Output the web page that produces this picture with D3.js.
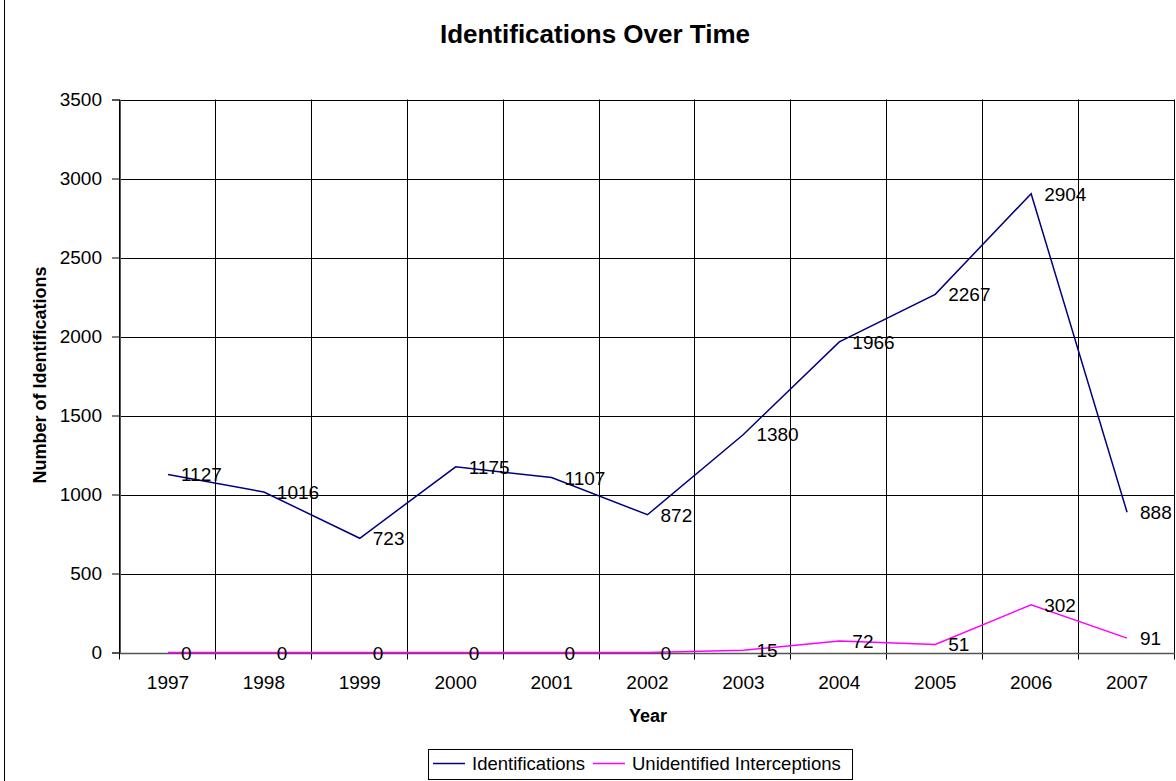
<!DOCTYPE html>
<html lang="en">
<head>
<meta charset="utf-8">
<title>Identifications Over Time</title>
<script src="https://d3js.org/d3.v7.min.js"></script>
<style>
  body { margin: 0; background: #fff; }
  svg { display: block; font-family: "Liberation Sans", Arial, sans-serif; }
</style>
</head>
<body>
<script>
// chart data
const years = ["1997", "1998", "1999", "2000", "2001", "2002", "2003", "2004", "2005", "2006", "2007"];
const identifications = [1127, 1016, 723, 1175, 1107, 872, 1380, 1966, 2267, 2904, 888];
const unidentified = [0, 0, 0, 0, 0, 0, 15, 72, 51, 302, 91];
const yTicks = [0, 500, 1000, 1500, 2000, 2500, 3000, 3500];

const width = 1176, height = 781;
const marginLeft = 120, marginRight = 1, marginTop = 99.5, marginBottom = 128.5;
const fontFamily = "'Liberation Sans', Arial, sans-serif";

const svg = d3.select("body").append("svg")
  .attr("width", width)
  .attr("height", height);

const x = d3.scaleBand()
  .domain(years)
  .range([marginLeft, width - marginRight]);

const y = d3.scaleLinear()
  .domain([0, 3500])
  .range([height - marginBottom, marginTop]);

// chart area border (left edge visible)
svg.append("line")
  .attr("x1", 4.5).attr("x2", 4.5)
  .attr("y1", 0).attr("y2", height)
  .attr("stroke", "#000");

// horizontal gridlines
svg.append("g")
  .selectAll("line")
  .data(yTicks)
  .join("line")
  .attr("x1", marginLeft).attr("x2", width - marginRight)
  .attr("y1", d => Math.round(y(d)) + 0.5).attr("y2", d => Math.round(y(d)) + 0.5)
  .attr("stroke", "#000");

// vertical gridlines at band boundaries
const bounds = years.map(d => x(d)).concat([x(years[years.length - 1]) + x.bandwidth()]);
svg.append("g")
  .selectAll("line")
  .data(bounds)
  .join("line")
  .attr("x1", d => Math.round(d) - 0.5).attr("x2", d => Math.round(d) - 0.5)
  .attr("y1", marginTop).attr("y2", height - marginBottom + 7)
  .attr("stroke", "#000");

// y axis
svg.append("g")
  .attr("transform", `translate(${marginLeft},0)`)
  .call(d3.axisLeft(y).tickValues(yTicks).tickSize(8).tickPadding(10).tickFormat(d3.format("d")))
  .call(g => g.select(".domain").attr("stroke", "#555"))
  .call(g => g.selectAll(".tick line").attr("stroke", "#000"))
  .call(g => g.selectAll("text").style("font-size", "19px").attr("fill", "#000")
    .style("font-family", fontFamily));

// x axis labels
svg.append("g")
  .selectAll("text")
  .data(years)
  .join("text")
  .attr("x", d => x(d) + x.bandwidth() / 2)
  .attr("y", 689)
  .attr("text-anchor", "middle")
  .style("font-size", "19px")
  .text(d => d);

// axis base line
svg.append("line")
  .attr("x1", marginLeft).attr("x2", width - marginRight)
  .attr("y1", Math.round(y(0)) + 0.5).attr("y2", Math.round(y(0)) + 0.5)
  .attr("stroke", "#555").attr("stroke-width", 1.5);

const cx = d => x(d) + x.bandwidth() / 2;
const line = d3.line()
  .x((d, i) => cx(years[i]))
  .y(d => y(d));

const series = [
  {name: "Identifications", values: identifications, color: "#000080"},
  {name: "Unidentified Interceptions", values: unidentified, color: "#FF00FF"}
];

series.forEach(s => {
  svg.append("path")
    .datum(s.values)
    .attr("fill", "none")
    .attr("stroke", s.color)
    .attr("stroke-width", 1.5)
    .attr("d", line);

  svg.append("g")
    .selectAll("text")
    .data(s.values)
    .join("text")
    .attr("x", (d, i) => cx(years[i]) + 13)
    .attr("y", d => y(d) + 7)
    .style("font-size", "19px")
    .attr("fill", "#000")
    .text(d => d);
});

// title
svg.append("text")
  .attr("x", 595)
  .attr("y", 43)
  .attr("text-anchor", "middle")
  .style("font-size", "26px")
  .style("font-weight", "bold")
  .text("Identifications Over Time");

// axis titles
svg.append("text")
  .attr("x", 648)
  .attr("y", 722)
  .attr("text-anchor", "middle")
  .style("font-size", "18px")
  .style("font-weight", "bold")
  .text("Year");

svg.append("text")
  .attr("transform", "translate(46,375) rotate(-90)")
  .attr("text-anchor", "middle")
  .style("font-size", "18px")
  .style("font-weight", "bold")
  .text("Number of Identifications");

// legend
const legend = svg.append("g").attr("transform", "translate(428,749)");
legend.append("rect")
  .attr("x", 0.5).attr("y", 0.5)
  .attr("width", 424).attr("height", 30)
  .attr("fill", "#fff")
  .attr("stroke", "#000");

const legendX = [5, 165];
series.forEach((s, i) => {
  const lg = legend.append("g").attr("transform", `translate(${legendX[i]},0)`);
  lg.append("line")
    .attr("x1", 0).attr("x2", 32)
    .attr("y1", 14.5).attr("y2", 14.5)
    .attr("stroke", s.color).attr("stroke-width", 1.5);
  lg.append("text")
    .attr("x", 39)
    .attr("y", 21)
    .style("font-size", "18.5px")
    .text(s.name);
});
</script>
</body>
</html>
